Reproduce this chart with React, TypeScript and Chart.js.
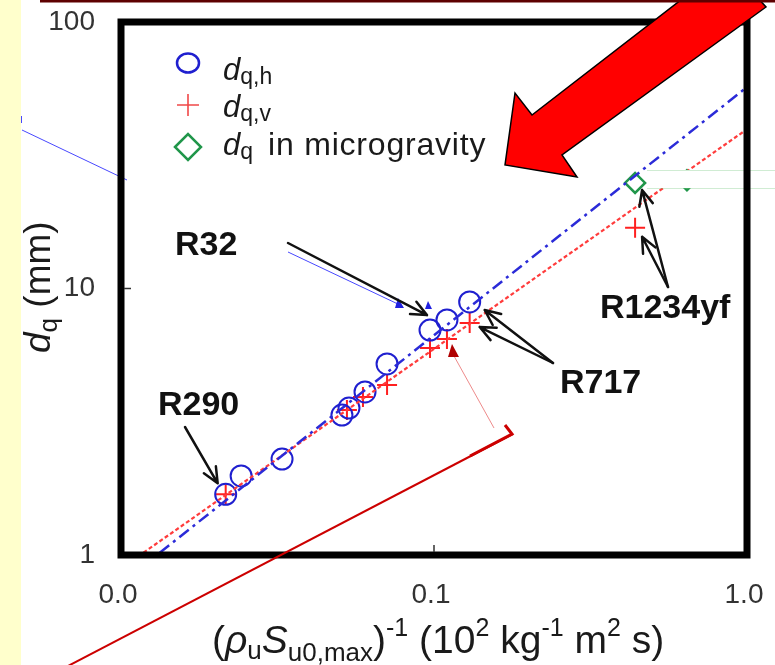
import React, { useEffect, useRef } from "react";
import { Chart, registerables } from "chart.js";
Chart.register(...registerables);

// ---- data ----
const xTicks = [0.01, 0.1, 1];
const xTickLabels = ["0.0", "0.1", "1.0"];
const yTicks = [1, 10, 100];
const yTickLabels = ["1", "10", "100"];

const hX = [0.0216, 0.0242, 0.0327, 0.0508, 0.0535, 0.0602, 0.0708, 0.0971, 0.11, 0.13];
const hY = [1.69, 1.98, 2.29, 3.35, 3.56, 4.09, 5.21, 6.98, 7.62, 8.9];
const vX = [0.0216, 0.0527, 0.0593, 0.0708, 0.0971, 0.11, 0.13, 0.439];
const vY = [1.69, 3.5, 3.92, 4.34, 5.98, 6.47, 7.42, 16.9];
const mX = [0.439, 0.643];
const mY = [24.9, 25.5];
const fitHX = [0.0133, 1.0];
const fitHY = [1.02, 57];
const fitVX = [0.0118, 1.0];
const fitVY = [1.02, 39.6];

const FONT = '"Liberation Sans", Arial, Helvetica, sans-serif';

type Seg = { t: string; size: number; italic?: boolean; bold?: boolean; dy?: number; ls?: number };

function rich(ctx: CanvasRenderingContext2D, x: number, y: number, segs: Seg[], color: string) {
  let cx = x;
  ctx.textAlign = "left";
  ctx.textBaseline = "alphabetic";
  ctx.fillStyle = color;
  for (const s of segs) {
    ctx.font = `${s.italic ? "italic " : ""}${s.bold ? "bold " : ""}${s.size}px ${FONT}`;
    (ctx as any).letterSpacing = (s.ls || 0) + "px";
    ctx.fillText(s.t, cx, y + (s.dy || 0));
    cx += ctx.measureText(s.t).width;
  }
  (ctx as any).letterSpacing = "0px";
}

function arrow(ctx: CanvasRenderingContext2D, x1: number, y1: number, x2: number, y2: number, color = "#111", lw = 2.5, head = 17) {
  ctx.save();
  ctx.strokeStyle = color;
  ctx.lineWidth = lw;
  ctx.lineCap = "round";
  ctx.lineJoin = "round";
  ctx.beginPath();
  ctx.moveTo(x1, y1);
  ctx.lineTo(x2, y2);
  const a = Math.atan2(y2 - y1, x2 - x1);
  ctx.moveTo(x2 - head * Math.cos(a - 0.42), y2 - head * Math.sin(a - 0.42));
  ctx.lineTo(x2, y2);
  ctx.lineTo(x2 - head * Math.cos(a + 0.42), y2 - head * Math.sin(a + 0.42));
  ctx.stroke();
  ctx.restore();
}

const decor = {
  id: "decor",
  beforeDraw(chart: any) {
    const ctx: CanvasRenderingContext2D = chart.ctx;
    ctx.save();
    ctx.fillStyle = "#ffffff";
    ctx.fillRect(0, 0, chart.width, chart.height);
    ctx.fillStyle = "#ffffcc";
    ctx.fillRect(0, 0, 21, chart.height);
    ctx.restore();
  },
  afterDraw(chart: any) {
    const ctx: CanvasRenderingContext2D = chart.ctx;
    const xs = chart.scales.x;
    const ys = chart.scales.y;
    const P = (x: number, y: number) => [xs.getPixelForValue(x), ys.getPixelForValue(y)];
    const { left, right, top, bottom } = chart.chartArea;
    ctx.save();

    // white patch top-right with faint green edges
    ctx.fillStyle = "#ffffff";
    ctx.fillRect(647, 170, 98, 18);
    ctx.strokeStyle = "rgba(120,200,130,0.35)";
    ctx.lineWidth = 1;
    ctx.beginPath();
    ctx.moveTo(647, 170.5); ctx.lineTo(775, 170.5);
    ctx.moveTo(647, 188.5); ctx.lineTo(775, 188.5);
    ctx.stroke();

    // white band + pink line artifact
    ctx.fillStyle = "#ffffff";
    ctx.beginPath();
    ctx.moveTo(451, 354); ctx.lineTo(472, 352); ctx.lineTo(512, 427); ctx.lineTo(494, 433);
    ctx.closePath(); ctx.fill();
    ctx.strokeStyle = "rgba(230,90,90,0.7)";
    ctx.lineWidth = 1;
    ctx.beginPath(); ctx.moveTo(454, 356); ctx.lineTo(494, 428); ctx.stroke();
    ctx.fillStyle = "#b00000";
    ctx.beginPath(); ctx.moveTo(452, 344); ctx.lineTo(459, 357); ctx.lineTo(448, 357); ctx.closePath(); ctx.fill();

    // blue thin line artifacts
    ctx.strokeStyle = "#4848ff";
    ctx.lineWidth = 1;
    ctx.beginPath();
    ctx.moveTo(22, 130); ctx.lineTo(127, 180);
    ctx.moveTo(288, 252); ctx.lineTo(400, 305);
    ctx.moveTo(21.5, 116); ctx.lineTo(21.5, 123);
    ctx.stroke();
    ctx.fillStyle = "#2020e0";
    ctx.beginPath(); ctx.moveTo(404, 308); ctx.lineTo(398, 298); ctx.lineTo(395, 308); ctx.closePath(); ctx.fill();
    ctx.beginPath(); ctx.moveTo(432, 309); ctx.lineTo(428, 301); ctx.lineTo(425, 309); ctx.closePath(); ctx.fill();

    // frame
    ctx.strokeStyle = "#000";
    ctx.lineWidth = 7;
    ctx.strokeRect(left, top, right - left, bottom - top);
    // inner tick marks
    ctx.lineWidth = 1.5;
    ctx.strokeStyle = "#333";
    ctx.beginPath();
    const [, y10] = P(0.1, 10);
    ctx.moveTo(left + 3, y10); ctx.lineTo(left + 10, y10);
    const [x01] = P(0.1, 10);
    ctx.moveTo(x01, bottom - 3); ctx.lineTo(x01, bottom - 10);
    ctx.stroke();

    // red long line artifact
    ctx.strokeStyle = "#cc0000";
    ctx.lineWidth = 2;
    ctx.beginPath(); ctx.moveTo(68, 666); ctx.lineTo(513, 434); ctx.stroke();
    ctx.lineWidth = 3;
    ctx.beginPath(); ctx.moveTo(505, 425); ctx.lineTo(512, 434); ctx.lineTo(470, 456); ctx.stroke();

    // legend
    const lx = 188;
    ctx.lineWidth = 2.5;
    ctx.strokeStyle = "#1f1fcf";
    ctx.beginPath(); ctx.ellipse(lx, 63, 11, 9.5, 0, 0, Math.PI * 2); ctx.stroke();
    ctx.strokeStyle = "#f04848";
    ctx.lineWidth = 1.6;
    ctx.beginPath(); ctx.moveTo(lx - 11, 105); ctx.lineTo(lx + 11, 105); ctx.moveTo(lx, 94); ctx.lineTo(lx, 116); ctx.stroke();
    ctx.strokeStyle = "#20964a";
    ctx.lineWidth = 2.5;
    ctx.beginPath(); ctx.moveTo(lx - 13, 147); ctx.lineTo(lx, 134); ctx.lineTo(lx + 13, 147); ctx.lineTo(lx, 160); ctx.closePath(); ctx.stroke();
    rich(ctx, 223, 80, [{ t: "d", size: 31, italic: true }, { t: "q,h", size: 23, dy: 4 }], "#1a1a1a");
    rich(ctx, 223, 117, [{ t: "d", size: 31, italic: true }, { t: "q,v", size: 23, dy: 4 }], "#1a1a1a");
    rich(ctx, 223, 155, [{ t: "d", size: 31, italic: true }, { t: "q", size: 23, dy: 4 }], "#1a1a1a");
    rich(ctx, 268, 155, [{ t: "in microgravity", size: 32, ls: 0.8 }], "#1a1a1a");

    // annotations
    const lbl = (t: string, x: number, y: number) => rich(ctx, x, y, [{ t, size: 34, bold: true }], "#111");
    lbl("R32", 175, 255);
    lbl("R290", 158, 415);
    lbl("R717", 560, 393);
    lbl("R1234yf", 600, 318);
    let [px, py] = P(hX[7], hY[7]);
    arrow(ctx, 288, 243, px - 3, py - 15);
    [px, py] = P(hX[0], hY[0]);
    arrow(ctx, 185, 427, px - 8, py - 11);
    [px, py] = P(hX[9], hY[9]);
    arrow(ctx, 553, 363, px + 15, py + 8);
    [px, py] = P(vX[6], vY[6]);
    arrow(ctx, 553, 363, px + 10, py + 4);
    [px, py] = P(mX[0], mY[0]);
    arrow(ctx, 668, 287, px + 7, py + 7);
    [px, py] = P(vX[7], vY[7]);
    arrow(ctx, 668, 287, px + 7, py + 9);

    // big red arrow
    ctx.fillStyle = "#ff0000";
    ctx.strokeStyle = "#000";
    ctx.lineWidth = 1.5;
    ctx.lineJoin = "miter";
    ctx.beginPath();
    ctx.moveTo(686, -4);
    ctx.lineTo(532, 115);
    ctx.lineTo(515, 93);
    ctx.lineTo(505, 165);
    ctx.lineTo(577, 177);
    ctx.lineTo(562, 155);
    ctx.lineTo(766, 7);
    ctx.lineTo(756, -4);
    ctx.closePath();
    ctx.fill();
    ctx.stroke();

    // top dark red border line
    ctx.fillStyle = "#5e0000";
    ctx.fillRect(40, 0, 735, 2.5);

    // axis titles
    ctx.save();
    ctx.translate(50, 353);
    ctx.rotate(-Math.PI / 2);
    rich(ctx, 0, 0, [{ t: "d", size: 37, italic: true }, { t: "q", size: 26, dy: 7 }, { t: " (mm)", size: 37 }], "#1a1a1a");
    ctx.restore();
    rich(ctx, 212, 653, [
      { t: "(", size: 39 },
      { t: "\u03c1", size: 39, italic: true },
      { t: "u", size: 26, dy: 6 },
      { t: "S", size: 39, italic: true },
      { t: "u0,max", size: 26, dy: 8 },
      { t: ")", size: 39 },
      { t: "-1", size: 25, dy: -17 },
      { t: " (", size: 39 },
      { t: "10", size: 39 },
      { t: "2", size: 25, dy: -17 },
      { t: " kg", size: 39 },
      { t: "-1", size: 25, dy: -17 },
      { t: " m", size: 39 },
      { t: "2", size: 25, dy: -17 },
      { t: " s)", size: 39 },
    ], "#1a1a1a");

    ctx.restore();
  },
};

export default function App() {
  const ref = useRef<HTMLCanvasElement | null>(null);
  useEffect(() => {
    if (!ref.current) return;
    const tickFont = { family: FONT, size: 28 };
    const chart = new Chart(ref.current, {
      type: "scatter",
      data: {
        datasets: [
          {
            label: "fit h",
            data: fitHX.map((x, i) => ({ x, y: fitHY[i] })),
            showLine: true,
            pointRadius: 0,
            borderColor: "#2b2bd8",
            borderWidth: 2.5,
            borderDash: [12, 5, 3, 5],
          },
          {
            label: "fit v",
            data: fitVX.map((x, i) => ({ x, y: fitVY[i] })),
            showLine: true,
            pointRadius: 0,
            borderColor: "#ff3c3c",
            borderWidth: 2.2,
            borderDash: [4, 2.5],
          },
          {
            label: "dq,h",
            data: hX.map((x, i) => ({ x, y: hY[i] })),
            pointStyle: "circle",
            pointRadius: 10.5,
            borderColor: "#1f1fcf",
            borderWidth: 2,
            backgroundColor: "rgba(0,0,0,0)",
          },
          {
            label: "dq,v",
            data: vX.map((x, i) => ({ x, y: vY[i] })),
            pointStyle: "cross",
            pointRadius: 10,
            borderColor: "#ff2020",
            borderWidth: 2,
          },
          {
            label: "dq micro",
            data: mX.map((x, i) => ({ x, y: mY[i] })),
            pointStyle: "rectRot",
            pointRadius: 10,
            borderColor: "#20964a",
            borderWidth: 2.5,
            backgroundColor: "rgba(0,0,0,0)",
          },
        ],
      },
      options: {
        animation: false,
        responsive: false,
        layout: { padding: { top: 22, right: 28, left: 0, bottom: 0 } },
        plugins: { legend: { display: false }, tooltip: { enabled: false } },
        scales: {
          x: {
            type: "logarithmic",
            min: 0.01,
            max: 1,
            afterBuildTicks: (s: any) => {
              s.ticks = xTicks.map((v) => ({ value: v }));
            },
            afterFit: (s: any) => {
              s.height = 110;
              s.paddingLeft = 0;
              s.paddingRight = 0;
            },
            grid: { display: false, drawTicks: false },
            border: { display: false },
            ticks: {
              autoSkip: false,
              maxRotation: 0,
              padding: 23,
              labelOffset: -3,
              font: tickFont,
              color: "#333",
              callback: (_v: any, i: number) => xTickLabels[i],
            },
          },
          y: {
            type: "logarithmic",
            min: 1,
            max: 100,
            afterBuildTicks: (s: any) => {
              s.ticks = yTicks.map((v) => ({ value: v }));
            },
            afterFit: (s: any) => {
              s.width = 121;
              s.paddingTop = 0;
              s.paddingBottom = 0;
            },
            grid: { display: false, drawTicks: false },
            border: { display: false },
            ticks: {
              autoSkip: false,
              padding: 26,
              font: tickFont,
              color: "#333",
              callback: (_v: any, i: number) => yTickLabels[i],
            },
          },
        },
      },
      plugins: [decor],
    } as any);
    return () => chart.destroy();
  }, []);
  return (
    <div style={{ position: "fixed", left: 0, top: 0, width: 775, height: 665 }}>
      <canvas ref={ref} width={775} height={665} style={{ display: "block", width: 775, height: 665 }} />
    </div>
  );
}
